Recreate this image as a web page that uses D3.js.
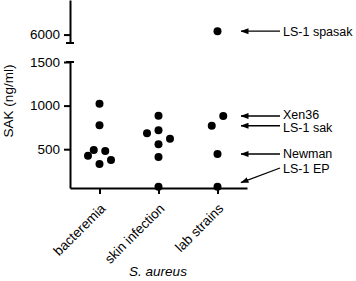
<!DOCTYPE html>
<html><head><meta charset="utf-8">
<script src="https://cdn.jsdelivr.net/npm/d3@7"></script>
<style>
html,body{margin:0;padding:0;background:#fff;}
svg{display:block;font-family:"Liberation Sans",Arial,Helvetica,sans-serif;}
</style></head>
<body>
<script>
// ---- data ----
const categories = ["bacteremia", "skin infection", "lab strains"];
const bacteremiaValues = [1020, 775, 491, 479, 425, 376, 330];
const bacteremiaSlots  = [0, 0, -1, 1, -2, 2, 0];
const skinValues = [884, 717, 682, 620, 556, 410, 70];
const skinSlots  = [0, 0, -2, 2, 0, 0, 0];
const labValues = [6080, 881, 769, 445, 70];
const labSlots  = [0, 1, -1, 0, 0];
const lowTicks = [500, 1000, 1500];
const highTicks = [6000];
const annoLabels = ["LS-1 spasak", "Xen36", "LS-1 sak", "Newman", "LS-1 EP"];
const annoArrowValues = [6080, 881, 769, 445, 116];
const annoTextValues  = [6080, 898, 744, 445, 273];
const yLabel = "SAK (ng/ml)";
const xLabel = "S. aureus";

// ---- layout ----
const W = 356, H = 281;
const svg = d3.select("body").append("svg").attr("width", W).attr("height", H);

const x = d3.scalePoint().domain(categories).range([70, 247]).padding(0.5);
const yLow = d3.scaleLinear().domain([55, 1500]).range([188, 62]);
const yHigh = d3.scaleLinear().domain([5800, 6820]).range([43, 0]);
const yAny = v => v >= 3000 ? yHigh(v) : yLow(v);
const slotW = 5.75;

const fs = 13.5;
const afs = 12.5;

// axes
const gLow = svg.append("g").attr("transform", "translate(70,0)")
  .call(d3.axisLeft(yLow).tickValues(lowTicks).tickFormat(d3.format("d")).tickSize(6).tickSizeOuter(0).tickPadding(4));
const gHigh = svg.append("g").attr("transform", "translate(70,0)")
  .call(d3.axisLeft(yHigh).tickValues(highTicks).tickFormat(d3.format("d")).tickSize(6).tickSizeOuter(0).tickPadding(4));
const gx = svg.append("g").attr("transform", "translate(0,188)")
  .call(d3.axisBottom(x).tickSize(6).tickSizeOuter(0));

[gLow, gHigh, gx].forEach(g => {
  g.select(".domain").attr("stroke", "#000").attr("stroke-width", 2);
  g.selectAll(".tick line").attr("stroke", "#000").attr("stroke-width", 2);
  g.selectAll(".tick text").attr("fill", "#000").attr("font-size", fs)
    .attr("font-family", "Liberation Sans, Arial, sans-serif");
});
gx.selectAll(".tick text")
  .attr("text-anchor", "end")
  .attr("x", 0).attr("y", 0).attr("dy", "0.35em")
  .attr("transform", "translate(3,18) rotate(-45)");

// break caps
svg.append("line").attr("x1", 66).attr("x2", 74).attr("y1", yHigh.range()[0]).attr("y2", yHigh.range()[0])
  .attr("stroke", "#000").attr("stroke-width", 2);
svg.append("line").attr("x1", 66).attr("x2", 74).attr("y1", yLow.range()[1]).attr("y2", yLow.range()[1])
  .attr("stroke", "#000").attr("stroke-width", 2);

// points
const groups = [
  [categories[0], bacteremiaValues, bacteremiaSlots],
  [categories[1], skinValues, skinSlots],
  [categories[2], labValues, labSlots]
];
const pts = [];
groups.forEach(([c, vals, slots]) => vals.forEach((v, i) => pts.push({c, v, s: slots[i]})));
svg.append("g").selectAll("circle").data(pts).join("circle")
  .attr("cx", d => x(d.c) + d.s * slotW)
  .attr("cy", d => yAny(d.v))
  .attr("r", 4)
  .attr("fill", "#000");

// axis titles
svg.append("text")
  .attr("transform", `translate(13,${(62 + 188) / 2 - 24}) rotate(-90)`)
  .attr("text-anchor", "middle").attr("font-size", fs).attr("fill", "#000")
  .text(yLabel);
svg.append("text")
  .attr("x", 158).attr("y", 276)
  .attr("text-anchor", "middle").attr("font-size", fs).attr("font-style", "italic").attr("fill", "#000")
  .text(xLabel);

// annotations
const defs = svg.append("defs");
defs.append("marker").attr("id", "ah").attr("viewBox", "0 0 8 6")
  .attr("refX", 7.5).attr("refY", 3).attr("markerWidth", 8).attr("markerHeight", 6)
  .attr("markerUnits", "userSpaceOnUse").attr("orient", "auto")
  .append("path").attr("d", "M0,0 L8,3 L0,6 Z").attr("fill", "#000");

const annoG = svg.append("g");
annoLabels.forEach((lab, i) => {
  const ty = yAny(annoTextValues[i]);
  const ay = yAny(annoArrowValues[i]);
  const sy = i === 4 ? ty - 1 : ay;
  annoG.append("line")
    .attr("x1", 280).attr("y1", sy)
    .attr("x2", 241).attr("y2", ay)
    .attr("stroke", "#000").attr("stroke-width", 1.3)
    .attr("marker-end", "url(#ah)");
  annoG.append("text")
    .attr("x", 283).attr("y", ty).attr("dy", "0.35em")
    .attr("font-size", afs).attr("fill", "#000")
    .text(lab);
});
</script>
</body></html>
